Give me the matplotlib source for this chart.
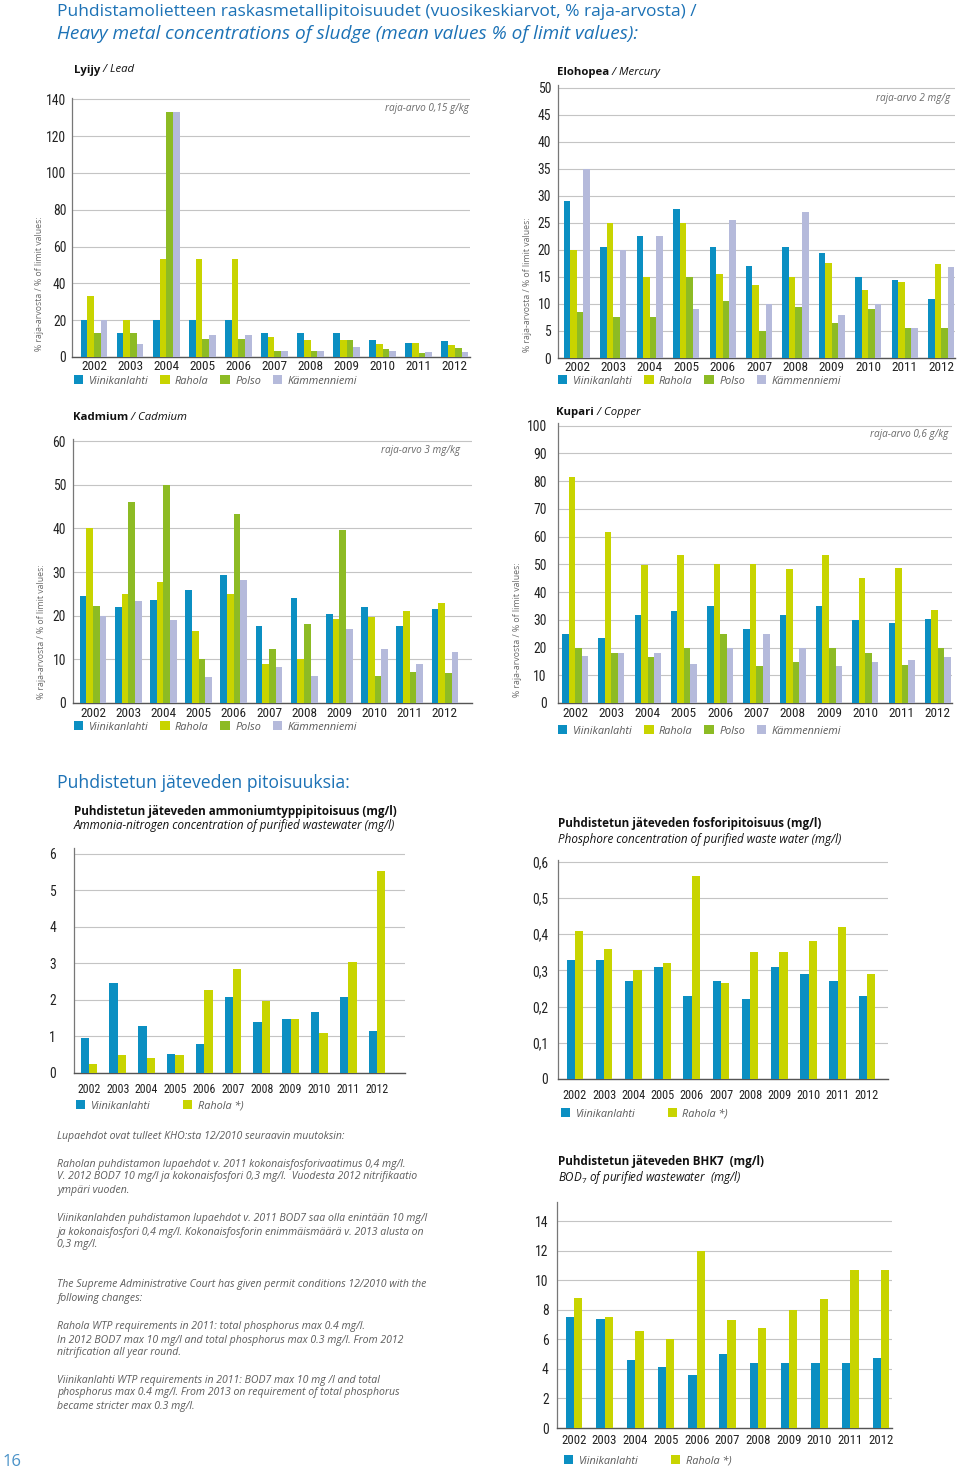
import matplotlib
matplotlib.use('Agg')
import matplotlib.pyplot as plt
from matplotlib import font_manager
import numpy as np

W, H = 960, 1474

# ---------------- data ----------------
years = ['2002', '2003', '2004', '2005', '2006', '2007', '2008', '2009', '2010', '2011', '2012']
stations4 = ['Viinikanlahti', 'Rahola', 'Polso', 'Kämmenniemi']
stations2 = ['Viinikanlahti', 'Rahola *)']

lead_viinikanlahti = [20, 13.3, 20, 20, 20, 13.3, 13.3, 13.3, 9.2, 7.6, 8.8]
lead_rahola = [33.2, 20, 53, 53, 53, 10.6, 9.2, 9.2, 7.2, 7.6, 6.3]
lead_polso = [13.3, 13, 133, 9.7, 10, 3.2, 3.2, 9.2, 4.5, 2.2, 4.9]
lead_kammenniemi = [20, 7, 133, 12, 12, 3.2, 3.2, 5.2, 3.2, 2.9, 2.9]

mercury_viinikanlahti = [29.0, 20.5, 22.5, 27.5, 20.5, 17.0, 20.5, 19.5, 15.0, 14.4, 10.9]
mercury_rahola = [20.0, 25.0, 15.0, 25.0, 15.5, 13.5, 15.0, 17.5, 12.5, 14.0, 17.3]
mercury_polso = [8.5, 7.5, 7.5, 15.0, 10.5, 5.0, 9.5, 6.5, 9.0, 5.5, 5.5]
mercury_kammenniemi = [35.0, 20.0, 22.5, 9.0, 25.5, 10.0, 27.0, 8.0, 10.0, 5.5, 16.8]

cadmium_viinikanlahti = [24.6, 22.0, 23.7, 26.0, 29.4, 17.6, 24.0, 20.4, 22.0, 17.6, 21.6]
cadmium_rahola = [40.0, 25.0, 27.7, 16.6, 25.0, 8.9, 10.0, 19.2, 19.6, 21.0, 23.0]
cadmium_polso = [22.3, 46.0, 50.0, 10.0, 43.4, 12.3, 18.0, 39.7, 6.3, 7.2, 6.9]
cadmium_kammenniemi = [20.0, 23.3, 19.0, 6.0, 28.3, 8.2, 6.3, 17.0, 12.4, 8.9, 11.6]

copper_viinikanlahti = [24.9, 23.4, 31.6, 33.3, 34.9, 26.7, 31.6, 35.0, 30.0, 28.7, 30.2]
copper_rahola = [81.7, 61.6, 49.9, 53.3, 50.0, 50.0, 48.3, 53.3, 45.0, 48.7, 33.5]
copper_polso = [19.9, 18.2, 16.5, 19.9, 25.0, 13.4, 14.8, 20.0, 18.2, 13.6, 20.0]
copper_kammenniemi = [16.9, 18.2, 18.2, 14.1, 20.0, 25.0, 20.0, 13.4, 14.8, 15.4, 16.6]

ammonia_viinikanlahti = [0.96, 2.46, 1.29, 0.53, 0.80, 2.07, 1.39, 1.47, 1.67, 2.07, 1.16]
ammonia_rahola = [0.25, 0.49, 0.42, 0.49, 2.27, 2.85, 1.98, 1.49, 1.10, 3.05, 5.52]

phosphorus_viinikanlahti = [0.33, 0.33, 0.27, 0.31, 0.23, 0.27, 0.22, 0.31, 0.29, 0.27, 0.23]
phosphorus_rahola = [0.41, 0.36, 0.30, 0.32, 0.56, 0.265, 0.35, 0.35, 0.38, 0.42, 0.29]

bod_viinikanlahti = [7.5, 7.4, 4.6, 4.1, 3.6, 5.0, 4.4, 4.4, 4.4, 4.37, 4.77]
bod_rahola = [8.8, 7.5, 6.6, 6.0, 12.0, 7.3, 6.8, 8.0, 8.7, 10.7, 10.7]

# ---------------- style ----------------
C_V = '#0b8fc2'
C_R = '#c8d400'
C_P = '#8dbb24'
C_K = '#b5badb'
BLUE = '#1c72b6'
GREY = '#5a5a5a'

names = {f.name for f in font_manager.fontManager.ttflist}
BODY = 'Open Sans' if 'Open Sans' in names else 'DejaVu Sans'
NARROW = None
for cand in ['Liberation Sans Narrow', 'Roboto Condensed', 'Open Sans Condensed', 'DejaVu Sans Condensed']:
    if cand in names:
        NARROW = cand
        break
if NARROW is None:
    NARROW = 'Roboto' if 'Roboto' in names else BODY

plt.rcParams['font.family'] = [BODY, 'DejaVu Sans']
plt.rcParams['mathtext.fontset'] = 'custom'
plt.rcParams['mathtext.rm'] = BODY
plt.rcParams['mathtext.it'] = BODY + ':italic'

fig = plt.figure(figsize=(W / 100, H / 100), dpi=100)
fig.patch.set_facecolor('white')


def fx(x):
    return x / W


def fy(y):
    return 1 - y / H


def add_axes_px(left, top, right, bottom):
    return fig.add_axes([left / W, 1 - bottom / H, (right - left) / W, (bottom - top) / H])


def bar_chart(ax, series, colors, labels, width, xlim, ylim, yticks, yticklabels,
              xpad, ypad, xtick_fs=9.5, ytick_fs=9.8):
    x = np.arange(len(years))
    n = len(series)
    bars = []
    for i, (vals, c, lab) in enumerate(zip(series, colors, labels)):
        b = ax.bar(x + (i - (n - 1) / 2) * width, vals, width, color=c, label=lab,
                   zorder=3, linewidth=0)
        bars.append(b)
    ax.set_xlim(*xlim)
    ax.set_ylim(*ylim)
    ax.set_xticks(x)
    ax.set_xticklabels(years, fontfamily=NARROW, fontsize=xtick_fs, color='#222222')
    ax.set_yticks(yticks)
    ax.set_yticklabels(yticklabels, fontfamily=NARROW, fontsize=ytick_fs, color='#222222')
    ax.tick_params(axis='x', length=0, pad=xpad)
    ax.tick_params(axis='y', length=0, pad=ypad)
    ax.yaxis.grid(True, color='#c4c4c4', linewidth=0.8)
    ax.set_axisbelow(True)
    for s in ['top', 'right']:
        ax.spines[s].set_visible(False)
    ax.spines['left'].set_color('#777777')
    ax.spines['left'].set_linewidth(0.9)
    ax.spines['bottom'].set_color('#555555')
    ax.spines['bottom'].set_linewidth(1.0)
    ax.set_facecolor('none')
    return bars


def add_legend(ax, bars, x, y, colspacing, fs=7.8):
    leg = ax.legend(handles=bars, loc='center left', bbox_to_anchor=(fx(x), fy(y)),
                    bbox_transform=fig.transFigure, ncol=len(bars), frameon=False,
                    handlelength=0.85, handleheight=0.85, handletextpad=0.5,
                    columnspacing=colspacing, borderpad=0, borderaxespad=0,
                    prop={'family': BODY, 'style': 'italic', 'size': fs})
    for t in leg.get_texts():
        t.set_color(GREY)
    return leg


def chart_title(x, y, bold, italic, fs=8.2):
    t = fig.text(fx(x), fy(y), bold, fontsize=fs, fontweight='bold', color='#111111',
                 va='center', ha='left')
    plt.annotate(' / ' + italic, xy=(1, 0.5), xycoords=t, va='center', ha='left',
                 fontsize=fs, fontstyle='italic', color='#111111')
    return t


def ylabel(x, y):
    fig.text(fx(x), fy(y), '% raja-arvosta / % of limit values:', rotation=90,
             ha='center', va='center', fontsize=6.3, color='#6a6a6a')


def limit_text(x, y, s):
    fig.text(fx(x), fy(y), s, ha='right', va='center', fontsize=7.2,
             fontstyle='italic', color='#6a6a6a')


colors4 = [C_V, C_R, C_P, C_K]
colors2 = [C_V, C_R]

# ---------------- page titles ----------------
fig.text(fx(57), fy(12), 'Puhdistamolietteen raskasmetallipitoisuudet (vuosikeskiarvot, % raja-arvosta) /',
         ha='left', va='center', fontsize=12.5, color=BLUE)
fig.text(fx(57), fy(34), 'Heavy metal concentrations of sludge (mean values % of limit values):',
         ha='left', va='center', fontsize=13.7, color=BLUE, fontstyle='italic')
fig.text(fx(57), fy(783), 'Puhdistetun jäteveden pitoisuuksia:', ha='left', va='center',
         fontsize=12.7, color=BLUE)
fig.text(fx(3), fy(1462), '16', ha='left', va='center', fontsize=12, color='#4a92c8')

# ---------------- Lead ----------------
ax = add_axes_px(72, 97.5, 470, 357)
b = bar_chart(ax, [lead_viinikanlahti, lead_rahola, lead_polso, lead_kammenniemi], colors4,
              stations4, 0.185, (-0.61, 10.42), (0, 141), np.arange(0, 141, 20),
              [str(v) for v in range(0, 141, 20)], xpad=2, ypad=4)
add_legend(ax, b, 74, 381, 1.1)
chart_title(74, 70, 'Lyijy', 'Lead')
limit_text(469, 108, 'raja-arvo 0,15 g/kg')
ylabel(40, 284)

# ---------------- Mercury ----------------
ax = add_axes_px(558, 85, 955, 358)
b = bar_chart(ax, [mercury_viinikanlahti, mercury_rahola, mercury_polso, mercury_kammenniemi],
              colors4, stations4, 0.18, (-0.52, 10.38), (0, 50.5), np.arange(0, 51, 5),
              [str(v) for v in range(0, 51, 5)], xpad=2, ypad=5)
add_legend(ax, b, 558, 381, 1.1)
chart_title(557, 72, 'Elohopea', 'Mercury')
limit_text(950, 98, 'raja-arvo 2 mg/g')
ylabel(528, 285)

# ---------------- Cadmium ----------------
ax = add_axes_px(73, 439, 472, 703)
b = bar_chart(ax, [cadmium_viinikanlahti, cadmium_rahola, cadmium_polso, cadmium_kammenniemi],
              colors4, stations4, 0.19, (-0.57, 10.77), (0, 60.5), np.arange(0, 61, 10),
              [str(v) for v in range(0, 61, 10)], xpad=3, ypad=5)
add_legend(ax, b, 74, 727, 1.1)
chart_title(73, 417, 'Kadmium', 'Cadmium')
limit_text(460, 451, 'raja-arvo 3 mg/kg')
ylabel(42, 632)

# ---------------- Copper ----------------
ax = add_axes_px(558, 423, 952, 703)
b = bar_chart(ax, [copper_viinikanlahti, copper_rahola, copper_polso, copper_kammenniemi],
              colors4, stations4, 0.18, (-0.47, 10.39), (0, 101), np.arange(0, 101, 10),
              [str(v) for v in range(0, 101, 10)], xpad=3, ypad=8)
add_legend(ax, b, 558, 731, 1.1)
chart_title(556, 413, 'Kupari', 'Copper')
limit_text(948, 435, 'raja-arvo 0,6 g/kg')
ylabel(518, 630)

# ---------------- Ammonia ----------------
ax = add_axes_px(74, 848.5, 405, 1073)
b = bar_chart(ax, [ammonia_viinikanlahti, ammonia_rahola], colors2, stations2, 0.29,
              (-0.52, 10.97), (0, 6.15), np.arange(0, 7, 1), [str(v) for v in range(0, 7)],
              xpad=7, ypad=13, xtick_fs=8.6)
add_legend(ax, b, 76, 1106, 3.0)
fig.text(fx(74), fy(811), 'Puhdistetun jäteveden ammoniumtyppipitoisuus (mg/l)', fontsize=8.4,
         fontweight='bold', color='#111111', va='center')
fig.text(fx(74), fy(826), 'Ammonia-nitrogen concentration of purified wastewater (mg/l)', fontsize=8.4,
         fontstyle='italic', color='#111111', va='center')

# ---------------- Phosphorus ----------------
ptick = [0, 0.1, 0.2, 0.3, 0.4, 0.5, 0.6]
ax = add_axes_px(558, 860, 888, 1079)
b = bar_chart(ax, [phosphorus_viinikanlahti, phosphorus_rahola], colors2, stations2, 0.285,
              (-0.58, 10.72), (0, 0.605), ptick,
              ['0' if v == 0 else f'{v:.1f}'.replace('.', ',') for v in ptick], xpad=7, ypad=7,
              xtick_fs=8.8)
add_legend(ax, b, 561, 1114, 3.0)
fig.text(fx(558), fy(824), 'Puhdistetun jäteveden fosforipitoisuus (mg/l)', fontsize=8.4,
         fontweight='bold', color='#111111', va='center')
fig.text(fx(558), fy(840), 'Phosphore concentration of purified waste water (mg/l)', fontsize=8.4,
         fontstyle='italic', color='#111111', va='center')

# ---------------- BOD ----------------
ax = add_axes_px(557, 1202, 892, 1428)
b = bar_chart(ax, [bod_viinikanlahti, bod_rahola], colors2, stations2, 0.27,
              (-0.55, 10.36), (0, 15.3), np.arange(0, 15, 2), [str(v) for v in range(0, 15, 2)],
              xpad=4, ypad=6, xtick_fs=9.2)
add_legend(ax, b, 564, 1461, 3.0)
fig.text(fx(558), fy(1161), 'Puhdistetun jäteveden BHK7  (mg/l)', fontsize=8.4,
         fontweight='bold', color='#111111', va='center')
fig.text(fx(558), fy(1177), r'BOD$_7$ of purified wastewater  (mg/l)', fontsize=8.4,
         fontstyle='italic', color='#111111', va='center')

# ---------------- notes ----------------
notes = [
    (1137, 'Lupaehdot ovat tulleet KHO:sta 12/2010 seuraavin muutoksin:'),
    (1164, 'Raholan puhdistamon lupaehdot v. 2011 kokonaisfosforivaatimus 0,4 mg/l.'),
    (1177, 'V. 2012 BOD7 10 mg/l ja kokonaisfosfori 0,3 mg/l.  Vuodesta 2012 nitrifikaatio'),
    (1191, 'ympäri vuoden.'),
    (1218, 'Viinikanlahden puhdistamon lupaehdot v. 2011 BOD7 saa olla enintään 10 mg/l'),
    (1232, 'ja kokonaisfosfori 0,4 mg/l. Kokonaisfosforin enimmäismäärä v. 2013 alusta on'),
    (1245, '0,3 mg/l.'),
    (1285, 'The Supreme Administrative Court has given permit conditions 12/2010 with the'),
    (1299, 'following changes:'),
    (1326, 'Rahola WTP requirements in 2011: total phosphorus max 0.4 mg/l.'),
    (1340, 'In 2012 BOD7 max 10 mg/l and total phosphorus max 0.3 mg/l. From 2012'),
    (1353, 'nitrification all year round.'),
    (1380, 'Viinikanlahti WTP requirements in 2011: BOD7 max 10 mg /l and total'),
    (1393, 'phosphorus max 0.4 mg/l. From 2013 on requirement of total phosphorus'),
    (1407, 'became stricter max 0.3 mg/l.'),
]
for y, s in notes:
    fig.text(fx(57), fy(y), s, ha='left', va='center', fontsize=7.6, fontstyle='italic',
             color='#5c5c5c')

fig.savefig('out.png', dpi=100, facecolor='white')
